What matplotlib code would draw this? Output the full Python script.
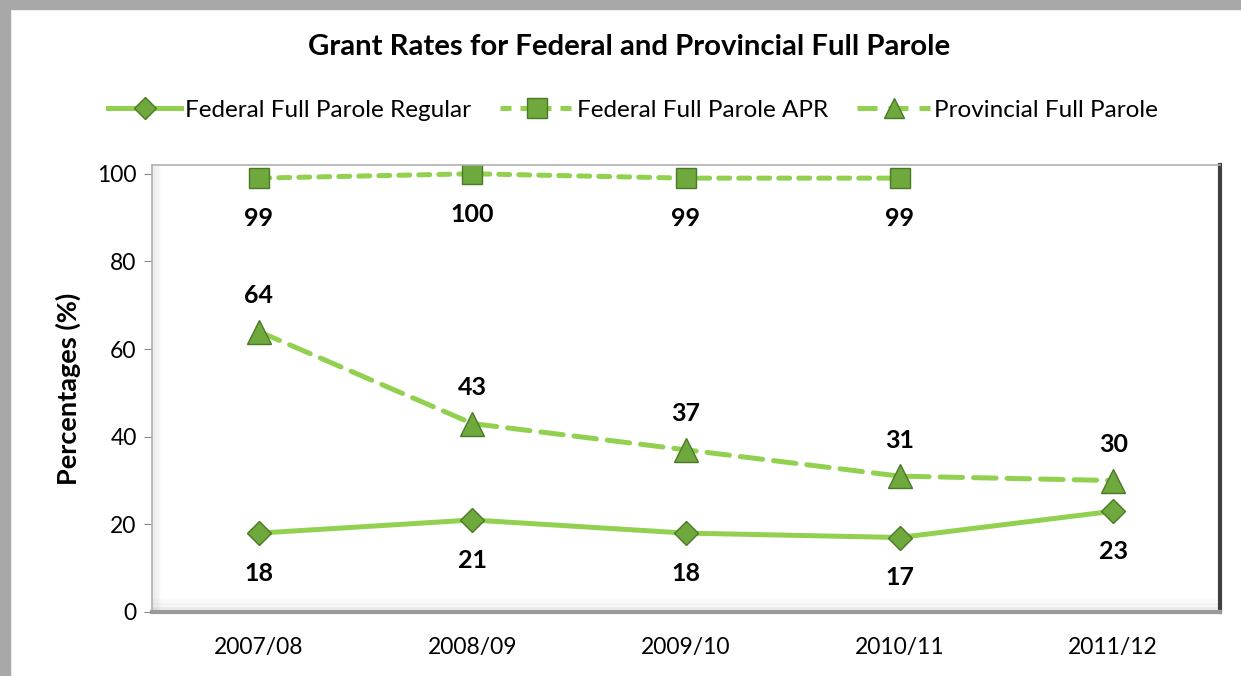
import numpy as np
import matplotlib
matplotlib.use('Agg')
from matplotlib import pyplot as plt
from matplotlib.lines import Line2D

plt.rcParams['font.family'] = ['Lato', 'DejaVu Sans']

# data
years = ['2007/08', '2008/09', '2009/10', '2010/11', '2011/12']
regular = [18, 21, 18, 17, 23]
apr = [99, 100, 99, 99, None]
provincial = [64, 43, 37, 31, 30]

line_green = '#92D050'
mark_face = '#6FA83C'
mark_edge = '#4A7A25'

fig = plt.figure(figsize=(12.41, 6.76), dpi=100)
ax = fig.add_axes([152 / 1241, 1 - 612 / 676, (1220 - 152) / 1241, (612 - 165) / 676])

x = np.arange(len(years))
apr_vals = np.array([np.nan if v is None else v for v in apr], dtype=float)

ax.plot(x, regular, color=line_green, lw=3.6, marker='D', ms=12,
        mfc=mark_face, mec=mark_edge, mew=1, solid_capstyle='round')
ax.plot(x, apr_vals, color=line_green, lw=3.6, ls=(0, (2.2, 1.8)), marker='s', ms=15,
        mfc=mark_face, mec=mark_edge, mew=1, dash_capstyle='round')
ax.plot(x, provincial, color=line_green, lw=3.6, ls=(0, (4.5, 2.2)), marker='^', ms=17,
        mfc=mark_face, mec=mark_edge, mew=1, dash_capstyle='round')

lbl = dict(ha='center', fontsize=18, fontweight='bold')
for i, v in enumerate(regular):
    ax.annotate(str(v), (x[i], v), xytext=(0, -29), textcoords='offset points', va='center', **lbl)
for i, v in enumerate(apr_vals):
    if not np.isnan(v):
        ax.annotate(str(int(v)), (x[i], v), xytext=(0, -29), textcoords='offset points', va='center', **lbl)
for i, v in enumerate(provincial):
    ax.annotate(str(v), (x[i], v), xytext=(0, 26), textcoords='offset points', va='center', **lbl)

ax.set_xlim(-0.5, 4.5)
ax.set_ylim(0, 102)
ax.set_yticks([0, 20, 40, 60, 80, 100])
ax.set_xticks(x)
ax.set_xticklabels(years)
ax.tick_params(axis='y', labelsize=16.5, length=6, color='#888888', pad=5)
ax.tick_params(axis='x', labelsize=16.5, length=0, pad=18)
ax.set_ylabel('Percentages (%)', fontsize=19.5, fontweight='bold', labelpad=12)

for s in ['top', 'left']:
    ax.spines[s].set_color('#b0b0b0')
    ax.spines[s].set_linewidth(1.2)
ax.spines['right'].set_color('#404040')
ax.spines['right'].set_linewidth(3)
ax.spines['bottom'].set_color('#9a9a9a')
ax.spines['bottom'].set_linewidth(3)

# bevel shading inside the plot frame
for k in range(10):
    a = 0.12 * (1 - k / 10)
    ax.axhline(0.3 + k * 0.3, color='#808080', lw=1.2, alpha=a, zorder=0)
    ax.axvline(-0.5 + 0.002 + k * 0.004, color='#808080', lw=1.0, alpha=a, zorder=0)

fig.text(0.507, 1 - 47 / 676, 'Grant Rates for Federal and Provincial Full Parole',
         ha='center', va='center', fontsize=21.2, fontweight='bold')

handles = [
    Line2D([], [], color=line_green, lw=3.6, marker='D', ms=11, mfc=mark_face, mec=mark_edge),
    Line2D([], [], color=line_green, lw=3.6, ls=(0, (2.2, 1.8)), marker='s', ms=14, mfc=mark_face, mec=mark_edge),
    Line2D([], [], color=line_green, lw=3.6, ls=(0, (4, 2.2)), marker='^', ms=15, mfc=mark_face, mec=mark_edge),
]
fig.legend(handles, ['Federal Full Parole Regular', 'Federal Full Parole APR', 'Provincial Full Parole'],
           loc='center', bbox_to_anchor=(0.51, 1 - 110 / 676), ncol=3, frameon=False,
           fontsize=17.5, handlelength=3.0, columnspacing=1.2, handletextpad=0.15)

# gray figure border (top and left)
fig.patches.append(plt.Rectangle((0, 1 - 9 / 676), 1, 9 / 676, transform=fig.transFigure,
                                 color='#a8a8a8', zorder=-1))
fig.patches.append(plt.Rectangle((0, 0), 10 / 1241, 1, transform=fig.transFigure,
                                 color='#a8a8a8', zorder=-1))

fig.savefig('out.png', dpi=100)
